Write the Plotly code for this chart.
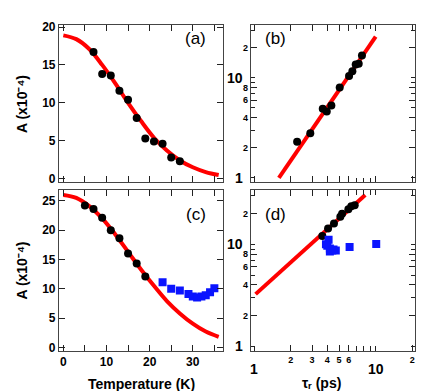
import math
import plotly.graph_objects as go

# ---------------- data ----------------
# panel (a)
a_T = [7, 9, 11, 13, 15, 17, 19, 21, 23, 25, 27]
a_A = [16.7, 13.8, 13.6, 11.6, 10.4, 8.0, 5.3, 4.9, 4.6, 2.8, 2.3]
a_fit_T = [0, 3, 6, 9, 12, 15, 18, 21, 24, 27, 30, 33, 36]
a_fit_A = [18.9, 18.4, 17.1, 15.0, 12.6, 10.0, 7.6, 5.4, 3.7, 2.4, 1.5, 0.87, 0.48]

# panel (b)
b_tau = [2.26, 2.90, 3.67, 3.96, 4.32, 5.06, 6.04, 6.43, 6.85, 7.25, 7.71]
b_A = [2.3, 2.8, 4.9, 4.6, 5.3, 8.0, 10.4, 11.6, 13.6, 13.8, 16.7]
b_fit_tau = [1.6, 10.0]
b_fit_A = [1.0, 25.8]

# panel (c)
c_T = [5, 7, 9, 11, 13, 15, 17, 19]
c_A = [24.2, 23.6, 22.1, 20.0, 18.6, 16.0, 14.3, 12.1]
c_blue_T = [23, 25, 27, 29, 30, 31, 32, 33, 34, 35]
c_blue_A = [11.1, 10.0, 9.7, 9.1, 8.7, 8.5, 8.7, 8.9, 9.4, 10.1]
c_fit_T = [0, 3, 6, 9, 12, 15, 18, 21, 24, 27, 30, 33, 36]
c_fit_A = [26.0, 25.5, 24.1, 22.0, 19.3, 16.3, 13.3, 10.5, 7.9, 5.8, 4.05, 2.7, 1.8]

# panel (d)
d_tau = [3.64, 4.06, 4.54, 5.12, 5.29, 5.96, 6.30, 6.72]
d_A = [12.1, 14.3, 16.0, 18.6, 20.0, 22.1, 23.6, 24.2]
d_blue_tau = [4.1, 3.9, 4.0, 4.2, 4.4, 4.2, 4.7, 4.5, 6.1, 10.1]
d_blue_A = [11.1, 10.0, 9.7, 9.1, 8.7, 8.5, 8.7, 8.9, 9.4, 10.1]
d_fit_tau = [1.03, 8.2]
d_fit_A = [3.25, 30.5]

# ticks
lin_T_ticks = [0, 5, 10, 15, 20, 25, 30, 35]
c_T_major = [0, 10, 20, 30]
c_T_minor = [5, 15, 25, 35]
a_A_ticks = [0, 5, 10, 15, 20]
c_A_ticks = [0, 5, 10, 15, 20, 25]
log_y_ticks = [2, 4, 6, 8, 20]
log_y_labels = ["2", "4", "6", "8", "2"]
log_y_minor = [1, 3, 5, 7, 9, 10, 30]
log_y_big = [1, 10]
log_x_all = [1, 2, 3, 4, 5, 6, 10, 20]
log_x_ticks = [2, 3, 4, 5, 6, 20]
log_x_labels = ["2", "3", "4", "5", "6", "2"]
log_x_minor = [1, 7, 8, 9, 10]
log_x_minor_b = [7, 8, 9]
log_x_big = [1, 10]

RED = "#ff0000"
BLUE = "#0a14ff"
FONT = "Arial, 'Liberation Sans', sans-serif"
W, H = 436, 391

fig = go.Figure()


def fit_line(x, y, xa, ya):
    fig.add_trace(go.Scatter(x=x, y=y, mode="lines", line=dict(color=RED, width=4),
                             line_shape="spline", xaxis=xa, yaxis=ya, showlegend=False,
                             hoverinfo="skip"))


def dots(x, y, xa, ya, color="black", symbol="circle", size=8):
    fig.add_trace(go.Scatter(x=x, y=y, mode="markers",
                             marker=dict(color=color, symbol=symbol, size=size, line=dict(width=0)),
                             xaxis=xa, yaxis=ya, showlegend=False))


fit_line(a_fit_T, a_fit_A, "x", "y")
dots(a_T, a_A, "x", "y")
fit_line(b_fit_tau, b_fit_A, "x2", "y2")
dots(b_tau, b_A, "x2", "y2")
fit_line(c_fit_T, c_fit_A, "x3", "y3")
dots(c_T, c_A, "x3", "y3")
dots(c_blue_T, c_blue_A, "x3", "y3", color=BLUE, symbol="square", size=8)
fit_line(d_fit_tau, d_fit_A, "x4", "y4")
dots(d_tau, d_A, "x4", "y4")
dots(d_blue_tau, d_blue_A, "x4", "y4", color=BLUE, symbol="square", size=8)

dom_xl = [51 / W, 215 / W]
dom_xr = [243 / W, 407 / W]
dom_yt = [1 - 174 / H, 1 - 13 / H]
dom_yb = [1 - 346 / H, 1 - 182 / H]

base = dict(showline=True, linecolor="#444", linewidth=1.2, mirror="allticks",
            ticks="inside", ticklen=6, tickcolor="#222", tickwidth=1.2,
            showgrid=False, zeroline=False,
            tickfont=dict(family=FONT, size=12, color="black", weight="bold"))
minor = dict(ticks="inside", ticklen=4, tickcolor="#222", tickwidth=1.2, showgrid=False)
small_font = dict(family=FONT, size=9, color="black", weight="bold")
big_font = dict(family=FONT, size=14, color="black", weight="bold")

fig.update_layout(
    width=W, height=H, margin=dict(l=0, r=0, t=0, b=0),
    paper_bgcolor="white", plot_bgcolor="white", showlegend=False,
    xaxis=dict(base, domain=dom_xl, anchor="y", range=[-1, 37],
               tickvals=lin_T_ticks, showticklabels=False),
    yaxis=dict(base, domain=dom_yt, anchor="x", range=[-0.5, 20.3],
               tickvals=a_A_ticks),
    xaxis2=dict(base, domain=dom_xr, anchor="y2", type="log", range=[-0.025, 1.323],
                tickvals=log_x_all, showticklabels=False,
                minor=dict(minor, tickvals=log_x_minor_b)),
    yaxis2=dict(base, domain=dom_yt, anchor="x2", type="log", range=[-0.045, 1.53],
                tickvals=log_y_ticks, ticktext=log_y_labels, tickfont=small_font,
                minor=dict(minor, tickvals=log_y_minor)),
    xaxis3=dict(base, domain=dom_xl, anchor="y3", range=[-1, 37],
                tickvals=c_T_major,
                minor=dict(minor, ticklen=6, tickvals=c_T_minor)),
    yaxis3=dict(base, domain=dom_yb, anchor="x3", range=[-0.6, 26.8],
                tickvals=c_A_ticks),
    xaxis4=dict(base, domain=dom_xr, anchor="y4", type="log", range=[-0.025, 1.323],
                tickvals=log_x_ticks, ticktext=log_x_labels, tickfont=small_font,
                minor=dict(minor, ticklen=5, tickvals=log_x_minor)),
    yaxis4=dict(base, domain=dom_yb, anchor="x4", type="log", range=[-0.045, 1.53],
                tickvals=log_y_ticks, ticktext=log_y_labels, tickfont=small_font,
                minor=dict(minor, tickvals=log_y_minor)),
)

ann = []
# panel letters
for txt, px, py in [("(a)", 187, 27), ("(b)", 267, 27), ("(c)", 188, 207), ("(d)", 267, 207)]:
    ann.append(dict(text=txt, x=px / W, y=1 - py / H, xref="paper", yref="paper",
                    showarrow=False, xanchor="center", yanchor="middle",
                    font=dict(family=FONT, size=17, color="black")))
# y titles
for py in [94, 264]:
    ann.append(dict(text="A (x10⁻⁴)", x=14 / W, y=1 - py / H, xref="paper", yref="paper",
                    showarrow=False, textangle=-90, xanchor="center", yanchor="middle",
                    font=dict(family=FONT, size=14, color="black", weight="bold")))
# x titles
ann.append(dict(text="Temperature (K)", x=133 / W, y=1 - 380 / H, xref="paper", yref="paper",
                showarrow=False, xanchor="center", yanchor="middle",
                font=dict(family=FONT, size=14, color="black", weight="bold")))
ann.append(dict(text="τᵣ (ps)", x=313 / W, y=1 - 379 / H, xref="paper", yref="paper",
                showarrow=False, xanchor="center", yanchor="middle",
                font=dict(family=FONT, size=14, color="black", weight="bold")))
# big decade labels under panel (d)
for v in log_x_big:
    ann.append(dict(text=str(v), x=math.log10(v), y=1 - 364 / H, xref="x4", yref="paper",
                    showarrow=False, xanchor="center", yanchor="middle",
                    font=big_font))
# big decade labels left of panels (b) and (d)
for yref in ["y2", "y4"]:
    for v in log_y_big:
        ann.append(dict(text=str(v), x=237 / W, y=math.log10(v), xref="paper", yref=yref,
                        showarrow=False, xanchor="right", yanchor="middle",
                        font=big_font))
fig.update_layout(annotations=ann)

fig.write_html("out.html")
